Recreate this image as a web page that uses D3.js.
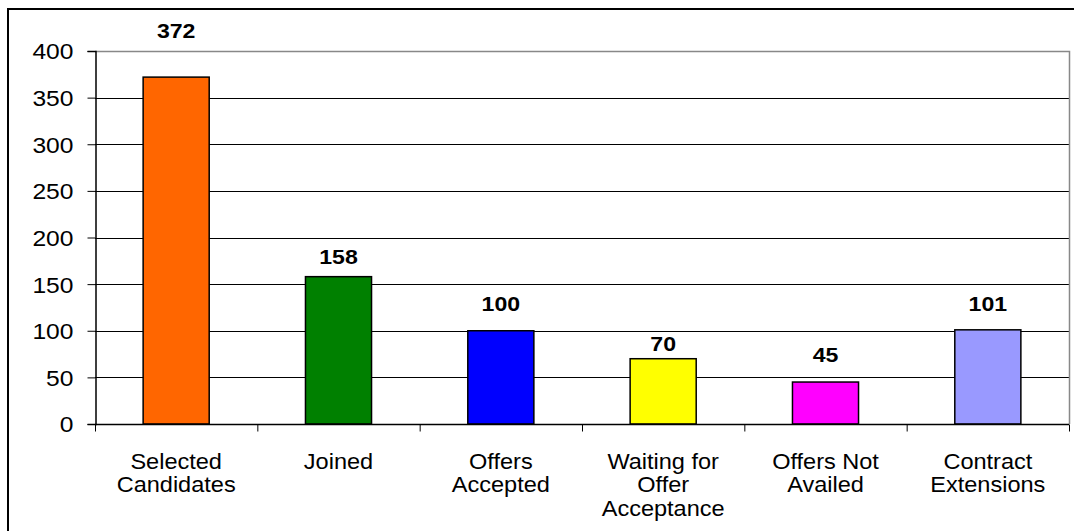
<!DOCTYPE html>
<html>
<head>
<meta charset="utf-8">
<script src="https://cdn.jsdelivr.net/npm/d3@7"></script>
<style>
  html, body { margin: 0; padding: 0; background: #fff; }
  svg { display: block; font-family: Arial, "Liberation Sans", sans-serif; }
</style>
</head>
<body>
<svg id="chart" width="1074" height="531"></svg>
<script>
// ---- data ----
const categories = [
  ["Selected", "Candidates"],
  ["Joined"],
  ["Offers", "Accepted"],
  ["Waiting for", "Offer", "Acceptance"],
  ["Offers Not", "Availed"],
  ["Contract", "Extensions"]
];
const values = [372, 158, 100, 70, 45, 101];
const colors = ["#FF6600", "#008000", "#0000FF", "#FFFF00", "#FF00FF", "#9999FF"];
const yTicks = [0, 50, 100, 150, 200, 250, 300, 350, 400];
// layout: distance of each value label's baseline above its bar top
const labelLift = [39, 13, 20, 8, 20, 19];

// ---- layout ----
const svg = d3.select("#chart");
const plot = { left: 95, right: 1069, top: 51, bottom: 424 };

// outer frame (extends beyond the picture on the right and bottom)
svg.append("rect")
  .attr("x", 8).attr("y", 9).attr("width", 1100).attr("height", 600)
  .attr("fill", "none").attr("stroke", "#000").attr("stroke-width", 2);

const x = d3.scaleBand()
  .domain(d3.range(categories.length))
  .range([plot.left, plot.right])
  .paddingInner(0.593)
  .paddingOuter(0.2965);

const xEdges = d3.scaleLinear()
  .domain([0, categories.length])
  .range([plot.left, plot.right]);

const y = d3.scaleLinear().domain([0, 400]).range([plot.bottom, plot.top]);

// gridlines
svg.append("g").selectAll("line")
  .data(yTicks.filter(t => t > 0 && t < 400))
  .join("line")
  .attr("x1", plot.left).attr("x2", plot.right)
  .attr("y1", d => Math.round(y(d)) + 0.5).attr("y2", d => Math.round(y(d)) + 0.5)
  .attr("stroke", "#000").attr("stroke-width", 1);

// plot area top/right border (gray)
svg.append("path")
  .attr("d", `M${plot.left},${Math.round(y(400)) + 0.5}H${plot.right + 0.5}V${plot.bottom}`)
  .attr("fill", "none").attr("stroke", "#888").attr("stroke-width", 1.5);

// bars
svg.append("g").selectAll("rect")
  .data(values)
  .join("rect")
  .attr("x", (d, i) => x(i))
  .attr("y", d => y(d))
  .attr("width", x.bandwidth())
  .attr("height", d => y(0) - y(d))
  .attr("fill", (d, i) => colors[i])
  .attr("stroke", "#000").attr("stroke-width", 1.5);

// y axis
const yAxis = d3.axisLeft(y).tickValues(yTicks).tickSize(8).tickPadding(14);
const gy = svg.append("g").attr("transform", `translate(${plot.left + 0.5},0)`).call(yAxis);
gy.select(".domain").attr("stroke", "#000").attr("stroke-width", 1.5);
gy.selectAll(".tick line").attr("stroke", "#000");
gy.selectAll(".tick text")
  .attr("fill", "#000")
  .style("font-size", "22px")
  .attr("transform", "scale(1.12,1)")
  .attr("x", -22 / 1.12)
  .attr("dy", "0.36em");

// x axis line and ticks at category boundaries
const xAxis = d3.axisBottom(xEdges).tickValues(d3.range(categories.length + 1)).tickSize(7).tickFormat("");
const gx = svg.append("g").attr("transform", `translate(0,${plot.bottom + 0.5})`).call(xAxis);
gx.select(".domain").attr("d", `M${plot.left},0H${plot.right}`).attr("stroke", "#000").attr("stroke-width", 1.5);
gx.selectAll(".tick line").attr("stroke", "#000");

// category labels
const catG = svg.append("g");
categories.forEach((lines, i) => {
  const cx = x(i) + x.bandwidth() / 2;
  const t = catG.append("text")
    .attr("text-anchor", "middle")
    .attr("transform", `translate(${cx},469) scale(1.07,1)`)
    .style("font-size", "22px")
    .attr("fill", "#000");
  lines.forEach((ln, k) => {
    t.append("tspan").attr("x", 0).attr("y", k * 23.5).text(ln);
  });
});

// value labels
svg.append("g").selectAll("text")
  .data(values)
  .join("text")
  .attr("text-anchor", "middle")
  .attr("transform", (d, i) => `translate(${x(i) + x.bandwidth() / 2},${y(d) - labelLift[i]}) scale(1.1,1)`)
  .style("font-size", "21px")
  .style("font-weight", "bold")
  .attr("fill", "#000")
  .text(d => d);
</script>
</body>
</html>
